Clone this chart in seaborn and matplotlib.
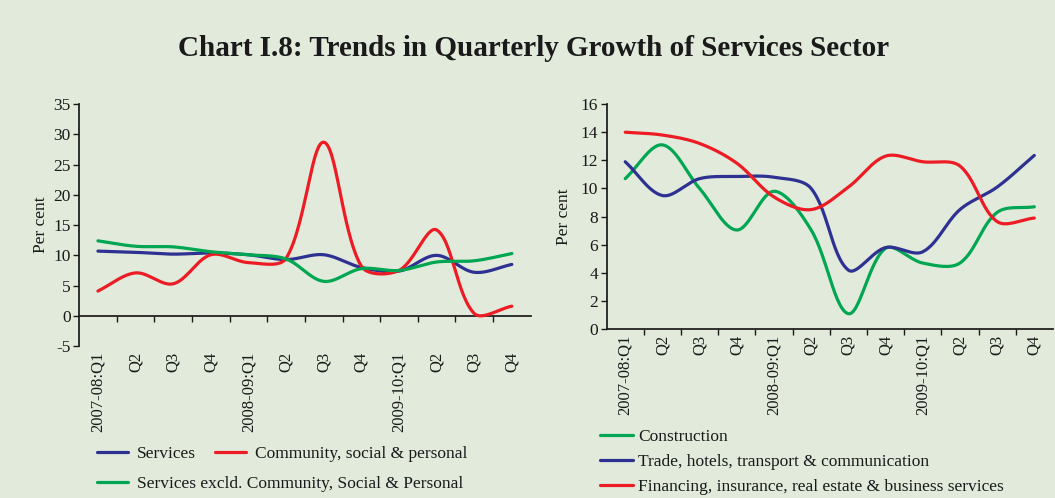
import numpy as np
import pandas as pd
import seaborn as sns
import matplotlib.pyplot as plt
from matplotlib.lines import Line2D

# quarter labels
quarters = ["2007-08:Q1", "Q2", "Q3", "Q4", "2008-09:Q1", "Q2", "Q3", "Q4",
            "2009-10:Q1", "Q2", "Q3", "Q4"]

# left panel (per cent)
services = [10.7, 10.5, 10.2, 10.4, 10.1, 9.3, 10.1, 8.0, 7.4, 10.0, 7.2, 8.5]
community = [4.1, 7.1, 5.3, 10.1, 8.8, 9.5, 28.7, 8.2, 7.5, 14.2, 0.4, 1.6]
services_excl = [12.4, 11.5, 11.4, 10.6, 10.1, 9.4, 5.7, 7.8, 7.5, 8.9, 9.1, 10.3]

# right panel (per cent)
construction = [10.7, 13.1, 10.0, 7.05, 9.8, 7.05, 1.1, 5.75, 4.7, 4.7, 8.3, 8.7]
trade = [11.9, 9.5, 10.7, 10.85, 10.8, 10.0, 4.2, 5.8, 5.5, 8.5, 10.1, 12.35]
financing = [14.0, 13.8, 13.2, 11.8, 9.4, 8.5, 10.1, 12.3, 11.9, 11.6, 7.65, 7.9]

BLUE = "#2e3192"
RED = "#ed1c24"
GREEN = "#00a651"
BG = "#e1eadb"


def smooth(vals, sx, sy, n=30):
    # Excel-style smoothed line: bezier segments, control points scaled by chord length
    # (worked out in screen units so steep jumps don't overshoot)
    pts = np.column_stack([np.arange(len(vals)) * sx, np.asarray(vals, float) * sy])
    t = np.linspace(0, 1, n, endpoint=False)[:, None]
    out = []
    for i in range(len(pts) - 1):
        p1, p2 = pts[i], pts[i + 1]
        p0 = pts[i - 1] if i > 0 else p1
        p3 = pts[i + 2] if i + 2 < len(pts) else p2
        d01 = np.linalg.norm(p1 - p0)
        d12 = np.linalg.norm(p2 - p1)
        d23 = np.linalg.norm(p3 - p2)
        c1 = p1 + (p2 - p0) / (d01 + d12) * d12 / 3
        c2 = p2 - (p3 - p1) / (d12 + d23) * d12 / 3
        seg = ((1 - t) ** 3 * p1 + 3 * (1 - t) ** 2 * t * c1
               + 3 * (1 - t) * t ** 2 * c2 + t ** 3 * p2)
        out.append(seg)
    out.append(pts[-1:])
    out = np.vstack(out)
    return out[:, 0] / sx, out[:, 1] / sy


sns.set_theme(style="ticks")
plt.rcParams["font.family"] = ["Liberation Serif", "DejaVu Serif"]
plt.rcParams["axes.facecolor"] = BG
plt.rcParams["figure.facecolor"] = BG
plt.rcParams["axes.unicode_minus"] = False

fig = plt.figure(figsize=(10.55, 4.98), dpi=100)
ax1 = fig.add_axes([0.075, 0.305, 0.428, 0.486])
ax2 = fig.add_axes([0.575, 0.339, 0.423, 0.452])

fig.text(0.506, 0.903, "Chart I.8: Trends in Quarterly Growth of Services Sector",
         ha="center", va="center", fontsize=21, fontweight="bold", color="#1a1a1a")


def style_axes(ax, ymin, ymax, step):
    ax.set_xlim(-0.5, 11.5)
    ax.set_ylim(ymin, ymax)
    ax.set_yticks(np.arange(ymin, ymax + 0.1, step))
    ax.set_xticks(range(12))
    ax.set_xticklabels(quarters, rotation=90, fontsize=12)
    ax.tick_params(axis="x", length=0, pad=4, colors="#1a1a1a")
    ax.tick_params(axis="y", length=4, width=1, labelsize=12.5, pad=2, colors="#1a1a1a")
    for s in ["top", "right", "bottom"]:
        ax.spines[s].set_visible(False)
    ax.spines["left"].set_color("#1a1a1a")
    ax.set_ylabel("Per cent", fontsize=12.5, color="#1a1a1a")
    ax.set_xlabel("")
    # category axis drawn at zero with ticks between quarters
    loc = (0 - ymin) / (ymax - ymin)
    sec = ax.secondary_xaxis(loc)
    sec.set_xticks(np.arange(0.5, 11, 1))
    sec.tick_params(direction="out", length=4, width=1, labelbottom=False, colors="#1a1a1a")
    sec.spines["bottom"].set_color("#1a1a1a")


for vals, col in [(services, BLUE), (community, RED), (services_excl, GREEN)]:
    x, y = smooth(vals, 37.7, 6.04)
    sns.lineplot(x=x, y=y, color=col, linewidth=2.3, ax=ax1, sort=False)
style_axes(ax1, -5, 35, 5)
ax1.yaxis.set_label_coords(-0.066, 0.5)

for vals, col in [(construction, GREEN), (trade, BLUE), (financing, RED)]:
    x, y = smooth(vals, 37.2, 14.05)
    sns.lineplot(x=x, y=y, color=col, linewidth=2.3, ax=ax2, sort=False)
style_axes(ax2, 0, 16, 2)
ax2.yaxis.set_label_coords(-0.078, 0.5)


def h(c):
    return Line2D([], [], color=c, linewidth=2.3)


leg_kw = dict(frameon=False, fontsize=12.5, handlelength=1.8, handletextpad=0.5,
              borderpad=0, borderaxespad=0, labelcolor="#1a1a1a")
fig.legend([h(BLUE), h(RED)], ["Services", "Community, social & personal"],
           loc="center left", bbox_to_anchor=(0.092, 0.089), ncol=2,
           columnspacing=1.1, **leg_kw)
fig.legend([h(GREEN)], ["Services excld. Community, Social & Personal"],
           loc="center left", bbox_to_anchor=(0.092, 0.029), **leg_kw)

fig.legend([h(GREEN), h(BLUE), h(RED)],
           ["Construction", "Trade, hotels, transport & communication",
            "Financing, insurance, real estate & business services"],
           loc="upper left", bbox_to_anchor=(0.569, 0.139),
           frameon=False, fontsize=12.5, handlelength=1.9, handletextpad=0.3,
           labelspacing=0.5, borderpad=0, borderaxespad=0, labelcolor="#1a1a1a")

fig.savefig("out.png", dpi=100, facecolor=BG)
